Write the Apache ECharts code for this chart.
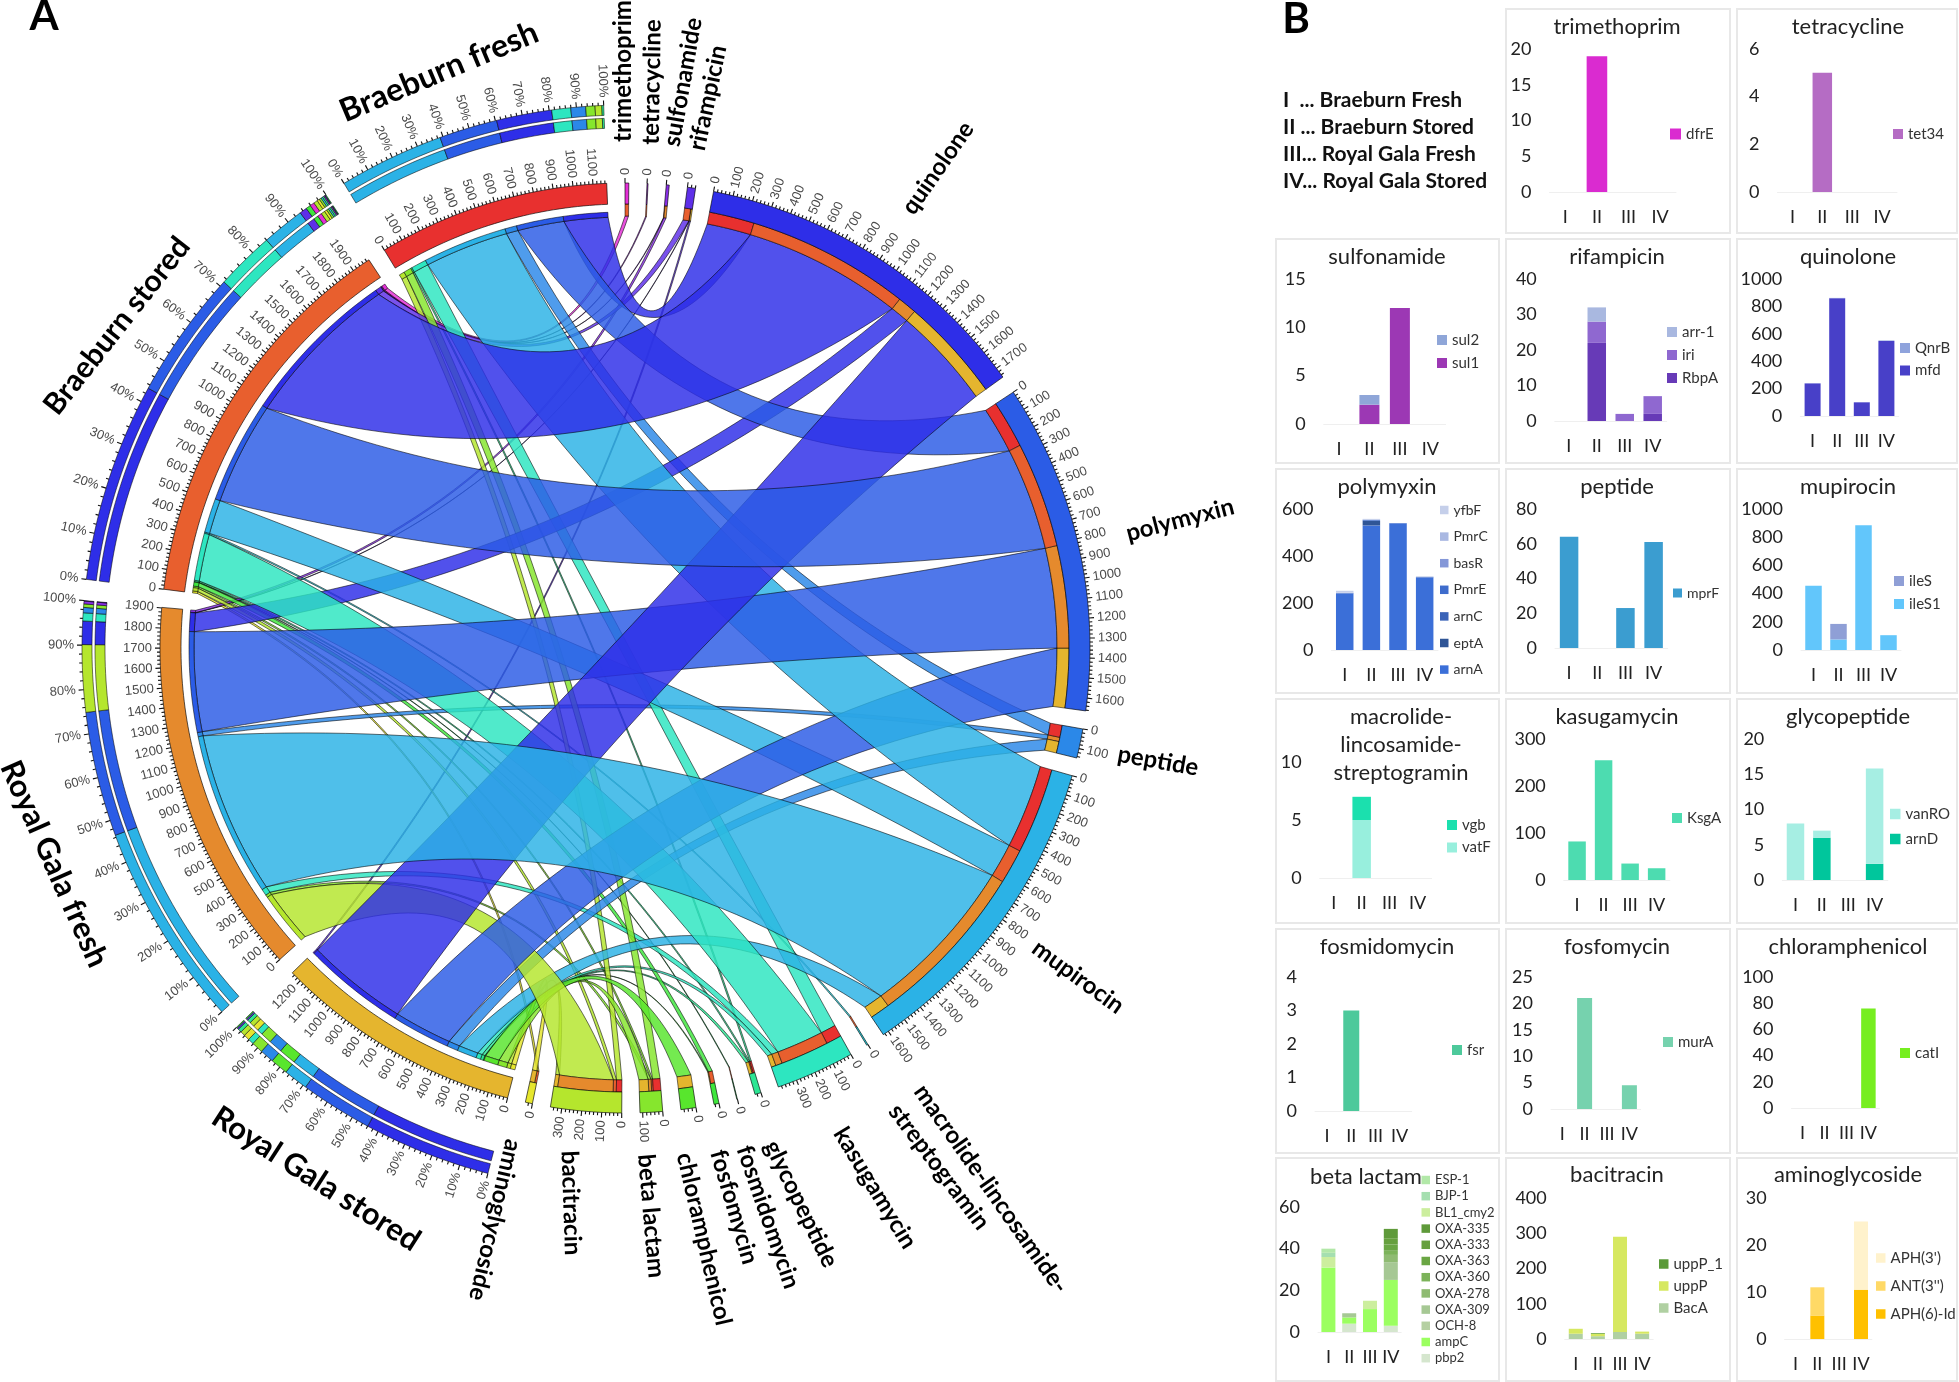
<!DOCTYPE html>
<html><head><meta charset="utf-8">
<style>html,body{margin:0;padding:0;background:#fff}#c{width:1959px;height:1382px}</style>
<script src="https://cdn.jsdelivr.net/npm/echarts@6/dist/echarts.min.js"></script>
</head><body><div id="c"></div>
<script>
// ---------- DATA (values per sample I..IV) ----------
const categories = ['I','II','III','IV'];
const samples = ['Braeburn fresh','Braeburn stored','Royal Gala fresh','Royal Gala stored'];
const trimethoprim = [['dfrE',0,19,0,0]];
const tetracycline = [['tet34',0,5,0,0]];
const sulfonamide = [['sul2',0,1,0,0],['sul1',0,2,12,0]];
const rifampicin = [['arr-1',0,4,0,0],['iri',0,6,2,5],['RbpA',0,22,0,2]];
const quinolone = [['QnrB',1,2,1,4],['mfd',238,860,100,548]];
const polymyxin = [['yfbF',8,2,0,2],['PmrC',1,2,0,1],['basR',1,1,0,1],['PmrE',2,3,2,2],['arnC',0,0,0,0],['eptA',0,20,0,0],['arnA',240,530,538,308]];
const peptide = [['mprF',64,0,23,61]];
const mupirocin = [['ileS',0,110,0,0],['ileS1',455,75,885,105]];
const macrolide = [['vgb',0,2,0,0],['vatF',0,5,0,0]];
const kasugamycin = [['KsgA',82,255,35,25]];
const glycopeptide = [['vanRO',8,1,0,13.5],['arnD',0,6,0,2.3]];
const fosmidomycin = [['fsr',0,3,0,0]];
const fosfomycin = [['murA',0,21,0,4.5]];
const chloramphenicol = [['catI',0,0,0,76]];
const betaLactam = [['ESP-1',2,0,0,0],['BJP-1',2,0,0,0],['BL1_cmy2',5,0,4,0],['OXA-335',0,0,0,4.5],['OXA-333',0,0,0,3],['OXA-363',0,0,0,3],['OXA-360',0,0,0,2],['OXA-278',0,0,0,3.5],['OXA-309',0,2,0,8.5],['OCH-8',0,0,0,0],['ampC',31,3,11,22],['pbp2',0,4,0,3]];
const bacitracin = [['uppP_1',0,2,0,0],['uppP',14,7,270,6],['BacA',15,8,20,15]];
const aminoglycoside = [["APH(3')",0,0,0,14.5],["ANT(3'')",0,6,0,0],['APH(6)-Id',0,5,0,10.5]];

const antibioticNames = ['trimethoprim','tetracycline','sulfonamide','rifampicin','quinolone','polymyxin','peptide','mupirocin','macrolide','kasugamycin','glycopeptide','fosmidomycin','fosfomycin','chloramphenicol','beta lactam','bacitracin','aminoglycoside'];
const antibioticGenes = [trimethoprim,tetracycline,sulfonamide,rifampicin,quinolone,polymyxin,peptide,mupirocin,macrolide,kasugamycin,glycopeptide,fosmidomycin,fosfomycin,chloramphenicol,betaLactam,bacitracin,aminoglycoside];
const axisMax = [20,6,15,40,1000,600,80,1000,10,300,20,4,25,100,60,400,30];
const axisStep = [5,2,5,10,200,200,20,200,5,100,5,1,5,20,20,100,10];

// ---------- STYLES ----------
const FONT='Lato';
const abColors=['#e32fd6','#a32fe0','#8a2fe8','#5e2fe8','#2e2ee8','#2b5ce6','#2b88e8','#2bb2e6','#2bd8e6','#2de6c0','#2de694','#2de668','#3ee63c','#58e62d','#86e62d','#b5e62d','#e6e62d'];
const sampleColors=['#e8302f','#e85f2e','#e58a2d','#e5b52e'];
const geneColors={dfrE:'#da2bd0',tet34:'#b56cc4',sul2:'#8fa6d8',sul1:'#9c38b4','arr-1':'#a9b8e0',iri:'#8f68d0',RbpA:'#673ab7',QnrB:'#8fa3dc',mfd:'#4840c8',yfbF:'#c5cfea',PmrC:'#a9b8e2',basR:'#8497d8',PmrE:'#3e6ccc',arnC:'#3a63b8',eptA:'#2f5596',arnA:'#3b6fd8',mprF:'#3b9dd0',ileS:'#8f9fd6',ileS1:'#62c6fb',vgb:'#1be0ae',vatF:'#98efdd',KsgA:'#4ddcb0',vanRO:'#a6eee3',arnD:'#00c69c',fsr:'#4dc99b',murA:'#76d2ae',catI:'#76ee20','ESP-1':'#b2e8a8','BJP-1':'#a5dfb0','BL1_cmy2':'#ccee9e','OXA-335':'#5f9a3a','OXA-333':'#66a03e','OXA-363':'#6aa644','OXA-360':'#7cb35a','OXA-278':'#8fbb72','OXA-309':'#a6c894','OCH-8':'#b5d0a2',ampC:'#9bff60',pbp2:'#d5e6ce',uppP_1:'#5a9a38',uppP:'#d6e860',BacA:'#b0d0a2',"APH(3')":'#fff2cc',"ANT(3'')":'#ffd966','APH(6)-Id':'#ffc000'};
// panel layout: box, plot x0,x1, top,base, bar width, title centre/y, legend swatch x, first y, step, swatch width, font
const layouts=[
 {box:[1506,9,224,224],x:[1549.5,1676],y:[49,192],bw:20.6,t:[1617,27],lg:[1670,134,0,11,15],xl:16},
 {box:[1737,9,220,224],x:[1777.5,1897],y:[49,192],bw:19.5,t:[1848,27],lg:[1893,134,0,10,15],xl:16},
 {box:[1276,239,223,224],x:[1323.7,1445.6],y:[279,424],bw:20,t:[1387,257],lg:[1437,340,23,10,15],xl:16},
 {box:[1506,239,224,224],x:[1554.8,1666.7],y:[279,421],bw:18.5,t:[1617,257],lg:[1667,332,23,10,15],xl:16},
 {box:[1737,239,220,224],x:[1800.3,1898.7],y:[279,416],bw:16,t:[1848,257],lg:[1900,348,22.5,10,15],xl:16},
 {box:[1276,469,223,224],x:[1331.4,1438],y:[509,650],bw:17.5,t:[1387,487],lg:[1440,510,26.6,8.5,14],xl:16},
 {box:[1506,469,224,224],x:[1555,1667.7],y:[509,648],bw:18.5,t:[1617,487],lg:[1673,593,0,9,14],xl:16},
 {box:[1737,469,220,224],x:[1801,1901],y:[509,650],bw:16.5,t:[1848,487],lg:[1894,581,23,10,15],xl:16},
 {box:[1276,699,223,224],x:[1319.7,1431.6],y:[762,878],bw:18.5,t:[1401,717],lg:[1447,825,22.5,10,15],xl:16},
 {box:[1506,699,224,224],x:[1563.8,1669.9],y:[739,880],bw:17.5,t:[1617,717],lg:[1672,818,0,10,15],xl:16},
 {box:[1737,699,220,224],x:[1782.3,1887.8],y:[739,880],bw:17.5,t:[1848,717],lg:[1890,814,25,10.5,15],xl:16},
 {box:[1276,929,223,224],x:[1315,1411.7],y:[977,1111],bw:16,t:[1387,947],lg:[1452,1050,0,10,15],xl:16},
 {box:[1506,929,224,224],x:[1551,1640.6],y:[977,1109],bw:15,t:[1617,947],lg:[1663,1042,0,10,15],xl:16},
 {box:[1737,929,220,224],x:[1791.5,1879.4],y:[977,1108],bw:14.5,t:[1848,947],lg:[1900,1053,0,10,15],xl:16},
 {box:[1276,1158,223,223],x:[1318,1401.2],y:[1207,1332],bw:14,t:[1366,1177],lg:[1421.5,1180,16.2,8.5,13],xl:16},
 {box:[1506,1158,224,223],x:[1564.7,1653.2],y:[1198,1339],bw:14,t:[1617,1175],lg:[1659,1264,22,9.5,15],xl:16},
 {box:[1737,1158,220,223],x:[1784.6,1871.9],y:[1198,1339],bw:14,t:[1848,1175],lg:[1876,1258,28,9.5,15],xl:16}
];
const titleText=n=>n==='macrolide'?'macrolide-\nlincosamide-\nstreptogramin':n;

// ---------- CHORD LAYOUT derived from the values ----------
const CX=625,CY=648,GAP=2.25;
const R={outer:465,ringIn:444,bandS0:436,bandS1:431,bandA1:432,p1:543,p2:533,p3:530,p4:520};
const matrix=antibioticGenes.map(g=>[0,1,2,3].map(s=>g.reduce((t,r)=>t+r[s+1],0)));
const abTot=matrix.map(r=>r.reduce((a,b)=>a+b,0));
const smTot=[0,1,2,3].map(s=>matrix.reduce((t,r)=>t+r[s],0));
const grand=abTot.reduce((a,b)=>a+b,0)+smTot.reduce((a,b)=>a+b,0);
const nSect=abTot.length+4;
const rate=(360-GAP*nSect)/grand;
const abStart=[];let ang=0;
abTot.forEach((t,i)=>{abStart[i]=ang;ang+=t*rate+GAP;});
const smStart=[];
[3,2,1,0].forEach(s=>{smStart[s]=ang;ang+=smTot[s]*rate+GAP;});

// rows
const sectorRows=[],ribbonRows=[],bandRows=[],pctRows=[],tickRows=[],pctTickRows=[];
abTot.forEach((t,i)=>sectorRows.push([abStart[i],abStart[i]+t*rate,i]));
smTot.forEach((t,s)=>sectorRows.push([smStart[s],smStart[s]+t*rate,100+s]));
// sample sectors take antibiotics in reverse order clockwise; antibiotic sectors take samples I..IV
for(let a=0;a<abTot.length;a++){let o=0;for(let s=0;s<4;s++){const v=matrix[a][s];if(v>0){const a0=abStart[a]+o*rate,a1=a0+v*rate;o+=v;
  ribbonRows.push({a,s,v,a0,a1});}}}
for(let s=0;s<4;s++){let o=0;for(let a=abTot.length-1;a>=0;a--){const v=matrix[a][s];if(v>0){const r=ribbonRows.find(x=>x.a===a&&x.s===s);r.s0=smStart[s]+o*rate;r.s1=r.s0+v*rate;o+=v;}}}
ribbonRows.sort((p,q)=>p.v-q.v);
const ribbonData=ribbonRows.map(r=>[r.a0,r.a1,r.s0,r.s1,r.a]);
ribbonRows.forEach(r=>{bandRows.push([r.a0,r.a1,R.ringIn,R.bandA1,100+r.s]);bandRows.push([r.s0,r.s1,R.bandS0,R.bandS1,r.a]);});
for(let s=0;s<4;s++){
  const parts=matrix.map((r,a)=>[r[s],a]).filter(p=>p[0]>0).sort((p,q)=>q[0]-p[0]);
  let o=0;parts.forEach(p=>{const a0=smStart[s]+o*rate;o+=p[0];pctRows.push([a0,smStart[s]+o*rate,p[1]]);});
  for(let k=0;k<=50;k++){pctTickRows.push([smStart[s]+smTot[s]*rate*k/50,k%5===0?1:0,k*2]);}
}
function addTicks(start,total){for(let v=0;v<=total;v+=20){tickRows.push([start+v*rate,v%100===0?1:0,v]);}}
abTot.forEach((t,i)=>addTicks(abStart[i],t));
smTot.forEach((t,s)=>addTicks(smStart[s],t));

const colorOf=i=>i>=100?sampleColors[i-100]:abColors[i];
function rgba(hex,al){const n=parseInt(hex.slice(1),16);return `rgba(${n>>16},${(n>>8)&255},${n&255},${al})`;}
function arcPts(api,r,a0,a1){const n=Math.max(1,Math.ceil(Math.abs(a1-a0)/0.8)),p=[];for(let i=0;i<=n;i++)p.push(api.coord([r,a0+(a1-a0)*i/n]));return p;}
function ring(api,r0,r1,a0,a1){return arcPts(api,r0,a0,a1).concat(arcPts(api,r1,a1,a0));}
function bez(api,r1,a1,r2,a2){
  let d=Math.abs(a1-a2),mid=(a1+a2)/2;if(d>180){d=360-d;mid+=180;}
  const c=Math.min(r1,r2)*0.58*Math.pow(Math.cos(d/2*Math.PI/180),1.35);
  const P=api.coord([r1,a1]),Q=api.coord([r2,a2]),C=api.coord([c,mid%360]),pts=[];
  for(let i=1;i<40;i++){const t=i/40,u=1-t;pts.push([u*u*P[0]+2*u*t*C[0]+t*t*Q[0],u*u*P[1]+2*u*t*C[1]+t*t*Q[1]]);}
  return pts;
}
function tickLabel(api,r,theta,str,fill){
  const p=api.coord([r,theta]),right=theta<=180;
  const rot=(right?90-theta:-(theta+90))*Math.PI/180;
  return {type:'text',x:p[0],y:p[1],rotation:rot,silent:true,style:{text:str,fill:fill,fontSize:13,fontFamily:'Liberation Sans',align:right?'left':'right',verticalAlign:'middle'}};
}
const customBase={type:'custom',coordinateSystem:'polar',polarIndex:0,silent:true,animation:false,clip:false};
const chordSeries=[
 Object.assign({},customBase,{name:'links',z:2,data:ribbonData,renderItem(p,api){
   const a0=api.value(0),a1=api.value(1),s0=api.value(2),s1=api.value(3),c=api.value(4);
   const pts=[].concat(arcPts(api,R.bandA1,a0,a1),bez(api,R.bandA1,a1,R.bandS1,s0),arcPts(api,R.bandS1,s0,s1),bez(api,R.bandS1,s1,R.bandA1,a0));
   return {type:'polygon',shape:{points:pts},style:{fill:rgba(abColors[c],0.83),stroke:'rgba(0,0,0,0.7)',lineWidth:0.8}};
 }}),
 Object.assign({},customBase,{name:'bands',z:3,data:bandRows,renderItem(p,api){
   return {type:'polygon',shape:{points:ring(api,api.value(2),api.value(3),api.value(0),api.value(1))},style:{fill:colorOf(api.value(4)),stroke:'rgba(0,0,0,0.75)',lineWidth:0.7}};
 }}),
 Object.assign({},customBase,{name:'sectors',z:4,data:sectorRows,renderItem(p,api){
   return {type:'polygon',shape:{points:ring(api,R.outer,R.ringIn,api.value(0),api.value(1))},style:{fill:colorOf(api.value(2)),stroke:'rgba(0,0,0,0.8)',lineWidth:0.8}};
 }}),
 Object.assign({},customBase,{name:'percent',z:4,data:pctRows,renderItem(p,api){
   const a0=api.value(0),a1=api.value(1),f=abColors[api.value(2)],st={fill:f,stroke:'rgba(0,0,0,0.75)',lineWidth:0.7};
   return {type:'group',children:[
     {type:'polygon',shape:{points:ring(api,R.p1,R.p2,a0,a1)},style:st},
     {type:'polygon',shape:{points:ring(api,R.p3,R.p4,a0,a1)},style:st}]};
 }}),
 Object.assign({},customBase,{name:'ticks',z:5,data:tickRows,renderItem(p,api){
   const th=api.value(0),maj=api.value(1),v=api.value(2);
   const a=api.coord([R.outer,th]),b=api.coord([R.outer+(maj?5:3),th]);
   const ch=[{type:'line',shape:{x1:a[0],y1:a[1],x2:b[0],y2:b[1]},style:{stroke:'#111',lineWidth:1.1}}];
   if(maj)ch.push(tickLabel(api,R.outer+8,th,String(v),'#4a4a4a'));
   return {type:'group',children:ch};
 }}),
 Object.assign({},customBase,{name:'pctTicks',z:5,data:pctTickRows,renderItem(p,api){
   const th=api.value(0),maj=api.value(1),v=api.value(2);
   const a=api.coord([R.p1,th]),b=api.coord([R.p1+(maj?5:3),th]);
   const ch=[{type:'line',shape:{x1:a[0],y1:a[1],x2:b[0],y2:b[1]},style:{stroke:'#111',lineWidth:1.1}}];
   if(maj)ch.push(tickLabel(api,R.p1+8,th,v+'%','#4a4a4a'));
   return {type:'group',children:ch};
 }})
];

// ---------- PANELS ----------
const grids=[],xAxes=[],yAxes=[],barSeries=[],titles=[],legends=[],boxes=[];
antibioticGenes.forEach((genes,i)=>{
  const L=layouts[i];
  grids.push({left:L.x[0],top:L.y[0],width:L.x[1]-L.x[0],height:L.y[1]-L.y[0]});
  xAxes.push({type:'category',gridIndex:i,data:categories,axisTick:{show:false},axisLine:{lineStyle:{color:'#efefef',width:1}},axisLabel:{interval:0,margin:L.xl,fontSize:18,fontFamily:FONT,color:'#222'}});
  yAxes.push({type:'value',gridIndex:i,min:0,max:axisMax[i],interval:axisStep[i],axisTick:{show:false},axisLine:{show:false},splitLine:{show:false},axisLabel:{margin:18,fontSize:18,fontFamily:FONT,color:'#222',formatter:v=>String(v)}});
  [...genes].reverse().forEach(g=>barSeries.push({type:'bar',name:g[0],stack:'p'+i,xAxisIndex:i,yAxisIndex:i,barWidth:L.bw,data:g.slice(1),itemStyle:{color:geneColors[g[0]]},animation:false,silent:true}));
  const name=antibioticNames[i];
  titles.push({text:titleText(name),left:L.t[0],top:L.t[1]-14,padding:0,textAlign:'center',textStyle:{fontFamily:FONT,fontSize:22,fontWeight:'normal',color:'#222',lineHeight:28}});
  const step=L.lg[2],lh=step>0&&step<18?step:18;
  legends.push({data:genes.map(g=>g[0]),orient:'vertical',left:L.lg[0],top:L.lg[1]-lh/2,padding:0,itemGap:Math.max(0,step-lh),itemWidth:L.lg[3],itemHeight:L.lg[3],icon:'rect',selectedMode:false,textStyle:{fontFamily:FONT,fontSize:L.lg[4],color:'#333',lineHeight:lh}});
  boxes.push({type:'rect',z:0,shape:{x:L.box[0],y:L.box[1],width:L.box[2],height:L.box[3]},style:{fill:'#fff',stroke:'#e8e8e8',lineWidth:2},silent:true});
});

// ---------- TEXT LABELS (panel A names, letters, key) ----------
const bold=(text,x,y,cw,fs)=>({type:'text',x,y,rotation:-cw*Math.PI/180,z:20,silent:true,style:{text,fontFamily:FONT,fontWeight:'bold',fontSize:fs,fill:'#000',align:'center',verticalAlign:'middle'}});
const names=[
 bold('Braeburn fresh',439,72,-22.7,32),bold('Braeburn stored',117,326,-51.8,30),
 bold('Royal Gala fresh',54,864,66,31),bold('Royal Gala stored',316,1179,32.7,31),
 bold('trimethoprim',623,71,-90,24),bold('tetracycline',652,82,-89,24),bold('sulfonamide',683,82,-80,24),bold('rifampicin',708,98,-78,24),
 bold('quinolone',938,168,-55,24),bold('polymyxin',1180,520,-14.6,24),bold('peptide',1158,761,10,24),bold('mupirocin',1078,977,36,24),
 bold('macrolide-lincosamide-',991,1189,54.8,24),bold('streptogramin',939,1167,53,24),bold('kasugamycin',875,1188,58.7,24),
 bold('glycopeptide',801,1204,64,24),bold('fosmidomycin',768,1217,71,24),bold('fosfomycin',734,1207,73.7,24),
 bold('chloramphenicol',704,1239,77,24),bold('beta lactam',651,1216,85,24),bold('bacitracin',571,1203,88,24),bold('aminoglycoside',495,1220,103,24),
 bold('A',44,16,0,42),bold('B',1296,19,0,42)
];
const keyLines=['I  ... Braeburn Fresh','II ... Braeburn Stored','III... Royal Gala Fresh','IV... Royal Gala Stored'];
const keyEls=keyLines.map((t,i)=>({type:'text',x:1283,y:100+27*i,z:20,silent:true,style:{text:t,fontFamily:FONT,fontWeight:'bold',fontSize:21,fill:'#111',align:'left',verticalAlign:'middle'}}));

const chart=echarts.init(document.getElementById('c'),null,{renderer:'canvas',width:1959,height:1382});
chart.setOption({
  animation:false,backgroundColor:'#fff',
  polar:{center:[CX,CY],radius:600},
  radiusAxis:{min:0,max:600,show:false},
  angleAxis:{min:0,max:360,startAngle:90,clockwise:true,show:false},
  grid:grids,xAxis:xAxes,yAxis:yAxes,title:titles,legend:legends,
  series:chordSeries.concat(barSeries),
  graphic:{elements:boxes.concat(names,keyEls)}
});
</script></body></html>
